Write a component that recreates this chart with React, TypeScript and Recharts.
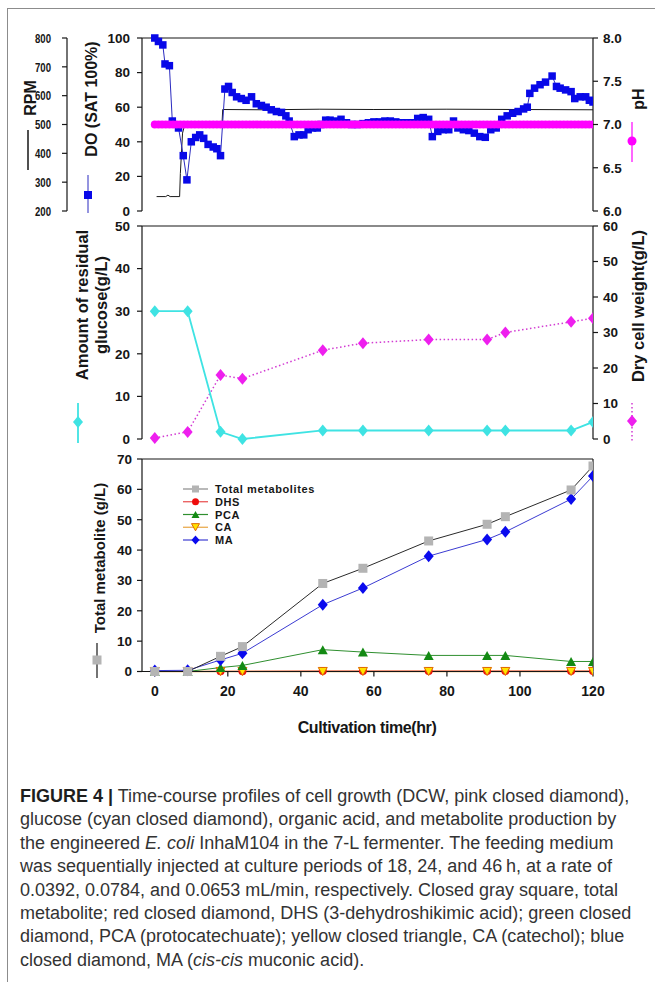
import React from 'react';
import { LineChart, Line, XAxis, YAxis, Legend, ReferenceLine } from 'recharts';

const FONT = '"Liberation Sans", Arial, Helvetica, sans-serif';
const INK = '#161616';

// ---------------- data ----------------
const doHours = [0, 1, 2.2, 2.8, 4, 4.8, 6.5, 7.8, 8.8, 10, 11.2, 12.3, 13.4, 14.6, 16, 17, 18, 19.2, 20.2, 21.2, 22.4, 23.7, 25, 26.5, 27.8, 29.2, 30.5, 31.9, 33.3, 34.7, 35.9, 36.8, 38.2, 39.5, 40.8, 42, 43.2, 44.5, 45.5, 46.8, 48, 49.5, 51, 52.5, 54, 55.5, 57, 58.5, 60, 61.5, 63, 64.5, 66, 67.5, 69, 70.5, 72, 73.5, 75, 76, 77.5, 79, 80.5, 81.8, 83, 84.5, 86, 87.5, 89, 90.5, 92, 93.5, 95, 96.5, 98, 99.5, 101, 102, 102.7, 104, 105.5, 107, 108.8, 110, 111, 112.5, 114, 115, 116.5, 118, 119, 120];
const doValues = [100, 98, 96, 85, 84, 52, 48, 32, 18, 40, 42.5, 44, 42, 38.5, 37, 36, 32, 70.5, 72, 68.5, 66, 65, 64, 66, 62, 61, 60, 58.5, 57.5, 57, 55, 52, 43, 44, 44, 47, 48, 48, 50, 52.5, 52.5, 52, 53, 51, 50, 50, 50.5, 51, 51.5, 51.5, 52, 52, 51.5, 51, 51, 51, 53.5, 54, 53, 43, 46, 47, 47, 52, 48, 47, 46.5, 45, 43, 42.6, 47, 48, 53, 55, 56.5, 57.5, 59, 60, 68, 71, 73, 74.5, 78, 72, 71, 70, 69, 65, 66, 66, 64, 63];

const rpmHours = [0.5, 3, 3.6, 4.2, 6.8, 7.0, 7.6, 8.2, 12, 18.4, 18.6, 30, 45, 60, 80, 100, 120];
const rpmValues = [250, 250, 255, 250, 250, 330, 470, 500, 500, 500, 552, 551, 553, 552, 553, 552, 551];

const phHours = [
  0, 1, 2, 3, 4, 5, 6, 7, 8, 9, 10, 11, 12, 13, 14, 15, 16, 17, 18, 19, 20,
  21, 22, 23, 24, 25, 26, 27, 28, 29, 30, 31, 32, 33, 34, 35, 36, 37, 38, 39, 40,
  41, 42, 43, 44, 45, 46, 47, 48, 49, 50, 51, 52, 53, 54, 55, 56, 57, 58, 59, 60,
  61, 62, 63, 64, 65, 66, 67, 68, 69, 70, 71, 72, 73, 74, 75, 76, 77, 78, 79, 80,
  81, 82, 83, 84, 85, 86, 87, 88, 89, 90, 91, 92, 93, 94, 95, 96, 97, 98, 99, 100,
  101, 102, 103, 104, 105, 106, 107, 108, 109, 110, 111, 112, 113, 114, 115, 116, 117, 118, 119, 120,
];
const phValues = [
  7.0, 7.0, 7.0, 7.0, 7.0, 7.0, 7.0, 7.0, 7.0, 7.0, 7.0, 7.0, 7.0, 7.0, 7.0, 7.0, 7.0, 7.0, 7.0, 7.0, 7.0,
  7.0, 7.0, 7.0, 7.0, 7.0, 7.0, 7.0, 7.0, 7.0, 7.0, 7.0, 7.0, 7.0, 7.0, 7.0, 7.0, 7.0, 7.0, 7.0, 7.0,
  7.0, 7.0, 7.0, 7.0, 7.0, 7.0, 7.0, 7.0, 7.0, 7.0, 7.0, 7.0, 7.0, 7.0, 7.0, 7.0, 7.0, 7.0, 7.0, 7.0,
  7.0, 7.0, 7.0, 7.0, 7.0, 7.0, 7.0, 7.0, 7.0, 7.0, 7.0, 7.0, 7.0, 7.0, 7.0, 7.0, 7.0, 7.0, 7.0, 7.0,
  7.0, 7.0, 7.0, 7.0, 7.0, 7.0, 7.0, 7.0, 7.0, 7.0, 7.0, 7.0, 7.0, 7.0, 7.0, 7.0, 7.0, 7.0, 7.0, 7.0,
  7.0, 7.0, 7.0, 7.0, 7.0, 7.0, 7.0, 7.0, 7.0, 7.0, 7.0, 7.0, 7.0, 7.0, 7.0, 7.0, 7.0, 7.0, 7.0, 7.0,
];

const sampleHours = [0, 9, 18, 24, 46, 57, 75, 91, 96, 114, 120];
const glucoseValues = [30, 30, 1.7, 0, 2, 2, 2, 2, 2, 2, 4];
const dcwValues = [0.3, 2, 18, 17, 25, 27, 28, 28, 30, 33, 34];
const totalValues = [0, 0, 5, 8.2, 29, 34, 43, 48.5, 51, 59.8, 67.7];
const dhsValues = [0, 0, 0.1, 0.1, 0.2, 0.2, 0.2, 0.2, 0.2, 0.2, 0.2];
const pcaValues = [0, 0, 1.3, 2, 7.2, 6.4, 5.3, 5.3, 5.3, 3.3, 3.3];
const caValues = [0, 0, 0, 0, 0, 0, 0, 0, 0, 0, 0];
const maValues = [0.3, 0.4, 3.8, 6, 22, 27.5, 38, 43.5, 46, 56.8, 64.4];

const xTicks = [0, 20, 40, 60, 80, 100, 120];
const doTicks = [0, 20, 40, 60, 80, 100];
const rpmTicks = [200, 300, 400, 500, 600, 700, 800];
const phTicks = [6, 6.5, 7, 7.5, 8];
const glucoseTicks = [0, 10, 20, 30, 40, 50];
const dcwTicks = [0, 10, 20, 30, 40, 50, 60];
const metTicks = [0, 10, 20, 30, 40, 50, 60, 70];
const legendOrder = ['Total metabolites', 'DHS', 'PCA', 'CA', 'MA'];

// ---------------- helpers ----------------
type P = { t: number; v: number };
const pairs = (hs: number[], vs: number[]): P[] => hs.map((t, i) => ({ t, v: vs[i] }));

const doData = pairs(doHours, doValues);
const rpmData = pairs(rpmHours, rpmValues);
const phData = pairs(phHours, phValues);
const glucoseData = pairs(sampleHours, glucoseValues);
const dcwData = pairs(sampleHours, dcwValues);
const totalData = pairs(sampleHours, totalValues);
const dhsData = pairs(sampleHours, dhsValues);
const pcaData = pairs(sampleHours, pcaValues);
const caData = pairs(sampleHours, caValues);
const maData = pairs(sampleHours, maValues);

const C = {
  doLine: '#2b2bc0',
  doFill: '#0808e8',
  ph: '#ff00ff',
  glucose: '#3fe3e3',
  dcwLine: '#d23ad2',
  dcwFill: '#ee1fee',
  totalLine: '#2a2a2a',
  totalFill: '#b4b4b4',
  dhsLine: '#e84a4a',
  dhsFill: '#ee0c0c',
  pcaLine: '#2f8f2f',
  pcaFill: '#138a13',
  caLine: '#e8a442',
  caFill: '#ffe400',
  caStroke: '#e06a00',
  maLine: '#3b3bd2',
  maFill: '#0a0aee',
};

function shapeSquare(x: number, y: number, s: number, fill: string, key?: any) {
  return <rect key={key} x={x - s / 2} y={y - s / 2} width={s} height={s} fill={fill} />;
}
function shapeDiamond(x: number, y: number, w: number, h: number, fill: string, key?: any) {
  return (
    <polygon key={key} points={`${x},${y - h / 2} ${x + w / 2},${y} ${x},${y + h / 2} ${x - w / 2},${y}`} fill={fill} />
  );
}
function shapeTri(x: number, y: number, s: number, fill: string, down: boolean, stroke?: string, key?: any) {
  const h = s * 0.9;
  const pts = down
    ? `${x - s / 2},${y - h / 2} ${x + s / 2},${y - h / 2} ${x},${y + h / 2}`
    : `${x - s / 2},${y + h / 2} ${x + s / 2},${y + h / 2} ${x},${y - h / 2}`;
  return <polygon key={key} points={pts} fill={fill} stroke={stroke || 'none'} strokeWidth={stroke ? 1 : 0} />;
}

const ok = (p: any) => p && p.cx != null && p.cy != null;
const squareDot = (s: number, fill: string) => (p: any) =>
  ok(p) ? shapeSquare(p.cx, p.cy, s, fill, p.index) : <g key={p.index} />;
const diamondDot = (w: number, h: number, fill: string) => (p: any) =>
  ok(p) ? shapeDiamond(p.cx, p.cy, w, h, fill, p.index) : <g key={p.index} />;
const triDot = (s: number, fill: string, down: boolean, stroke?: string) => (p: any) =>
  ok(p) ? shapeTri(p.cx, p.cy, s, fill, down, stroke, p.index) : <g key={p.index} />;

const tickStyle = { fontSize: 13.5, fontWeight: 700, fill: INK, fontFamily: FONT };
const axisLineStyle = { stroke: INK, strokeWidth: 1.2 };
const tickLineStyle = { stroke: INK, strokeWidth: 1.2 };

const RpmTick = (p: any) => (
  <text
    x={p.x}
    y={p.y}
    dy="0.36em"
    textAnchor="end"
    fontSize={13}
    fontWeight={700}
    fontFamily={FONT}
    fill={INK}
    textLength={16}
    lengthAdjust="spacingAndGlyphs"
  >
    {p.payload && p.payload.value}
  </text>
);

const VText = ({ x, y, size = 16, children }: { x: number; y: number; size?: number; children: React.ReactNode }) => (
  <text
    x={x}
    y={y}
    transform={`rotate(-90 ${x} ${y})`}
    textAnchor="middle"
    dominantBaseline="central"
    fontFamily={FONT}
    fontWeight={700}
    fontSize={size}
    fill={INK}
  >
    {children}
  </text>
);

// axis titles with their legend glyphs
const TopLeftTitles = () => (
  <g>
    <VText x={30} y={98}>RPM</VText>
    <line x1={28} y1={130} x2={28} y2={170} stroke={INK} strokeWidth={1.5} />
    <VText x={91} y={99}>DO (SAT 100%)</VText>
    <line x1={88} y1={175} x2={88} y2={213} stroke={C.doLine} strokeWidth={1} />
    {shapeSquare(88, 195, 8, C.doFill)}
  </g>
);
const TopRightTitles = () => (
  <g>
    <VText x={638} y={99}>pH</VText>
    <line x1={632} y1={122} x2={632} y2={162} stroke={C.ph} strokeWidth={1.2} />
    <circle cx={632} cy={141} r={4.5} fill={C.ph} />
  </g>
);
const MidLeftTitles = () => (
  <g>
    <VText x={82} y={90} size={16.5}>Amount of residual</VText>
    <VText x={101} y={90} size={16.5}>glucose(g/L)</VText>
    <line x1={78} y1={188} x2={78} y2={228} stroke={C.glucose} strokeWidth={1.8} />
    {shapeDiamond(78, 207, 10, 12, C.glucose)}
  </g>
);
const MidRightTitles = () => (
  <g>
    <VText x={638} y={91} size={16.5}>Dry cell weight(g/L)</VText>
    <line x1={632} y1={188} x2={632} y2={228} stroke={C.dcwLine} strokeWidth={1.5} strokeDasharray="1.5 2.5" />
    {shapeDiamond(632, 206, 10, 12, C.dcwFill)}
  </g>
);
const BottomLeftTitles = () => (
  <g>
    <VText x={99} y={108} size={15}>Total metabolite (g/L)</VText>
    <line x1={97} y1={193} x2={97} y2={228} stroke={INK} strokeWidth={1.2} />
    {shapeSquare(97, 210, 9, C.totalFill)}
  </g>
);
const XTitle = () => (
  <text x={367} y={283} textAnchor="middle" fontFamily={FONT} fontWeight={700} fontSize={16} letterSpacing={-0.4} fill={INK}>
    Cultivation time(hr)
  </text>
);

const legendMarker = (name: string, x: number, y: number) => {
  switch (name) {
    case 'Total metabolites':
      return shapeSquare(x, y, 7, C.totalFill);
    case 'DHS':
      return <circle cx={x} cy={y} r={3.5} fill={C.dhsFill} />;
    case 'PCA':
      return shapeTri(x, y, 8, C.pcaFill, false);
    case 'CA':
      return shapeTri(x, y, 8, C.caFill, true, C.caStroke);
    default:
      return shapeDiamond(x, y, 8, 9, C.maFill);
  }
};
const legendLine: Record<string, string> = {
  'Total metabolites': '#8a8a8a',
  DHS: C.dhsLine,
  PCA: C.pcaLine,
  CA: C.caLine,
  MA: C.maLine,
};

const MetLegend = (props: any) => {
  const payload: any[] = props.payload || [];
  const items = legendOrder.filter((n) => payload.some((p) => p.value === n));
  return (
    <svg width={150} height={66} style={{ display: 'block' }}>
      {items.map((name, i) => {
        const y = 6 + i * 12.75;
        return (
          <g key={name}>
            <line x1={3} x2={28} y1={y} y2={y} stroke={legendLine[name]} strokeWidth={1.2} />
            {legendMarker(name, 15.5, y)}
            <text x={35} y={y + 4} fontFamily={FONT} fontWeight={700} fontSize={11} letterSpacing={0.6} fill={INK}>
              {name}
            </text>
          </g>
        );
      })}
    </svg>
  );
};

const X_DOMAIN: [number, number] = [-3.5, 120];

export default function App() {
  return (
    <div style={{ position: 'absolute', left: 0, top: 0, width: 655, height: 982, background: '#fff', overflow: 'hidden' }}>
      {/* page frame */}
      <div
        style={{
          position: 'absolute',
          left: 7,
          top: 8,
          width: 660,
          height: 990,
          borderLeft: '1.5px solid #8c8c8c',
          borderTop: '1.5px solid #8c8c8c',
        }}
      />

      {/* Panel 1: RPM, DO, pH */}
      <div style={{ position: 'absolute', left: 0, top: 0 }}>
        <LineChart width={655} height={220} margin={{ top: 38, right: 0, bottom: 9, left: 0 }}>
          <XAxis type="number" dataKey="t" domain={X_DOMAIN} allowDataOverflow tick={false} tickLine={false} height={0} axisLine={axisLineStyle} />
          <YAxis
            yAxisId="do"
            orientation="left"
            width={75}
            domain={[0, 100]}
            ticks={doTicks}
            interval={0}
            tick={tickStyle}
            tickSize={5}
            tickMargin={7}
            axisLine={axisLineStyle}
            tickLine={tickLineStyle}
            label={<TopLeftTitles />}
          />
          <YAxis
            yAxisId="rpm"
            orientation="left"
            width={67}
            domain={[200, 800]}
            ticks={rpmTicks}
            interval={0}
            tick={<RpmTick />}
            tickSize={5}
            tickMargin={11}
            axisLine={axisLineStyle}
            tickLine={tickLineStyle}
          />
          <YAxis
            yAxisId="ph"
            orientation="right"
            width={62}
            domain={[6, 8]}
            ticks={phTicks}
            interval={0}
            tickFormatter={(v: number) => v.toFixed(1)}
            tick={tickStyle}
            tickSize={5}
            tickMargin={5}
            axisLine={axisLineStyle}
            tickLine={tickLineStyle}
            label={<TopRightTitles />}
          />
          <ReferenceLine yAxisId="do" y={100} stroke={INK} strokeWidth={1.2} />
          <Line yAxisId="rpm" data={rpmData} dataKey="v" name="RPM" stroke="#1a1a1a" strokeWidth={1} dot={false} isAnimationActive={false} />
          <Line yAxisId="do" data={doData} dataKey="v" name="DO" stroke={C.doLine} strokeWidth={1} dot={squareDot(7.5, C.doFill)} isAnimationActive={false} />
          <Line yAxisId="ph" data={phData} dataKey="v" name="pH" stroke={C.ph} strokeWidth={1} dot={{ r: 4, fill: C.ph, stroke: 'none' }} isAnimationActive={false} />
        </LineChart>
      </div>

      {/* Panel 2: glucose and DCW */}
      <div style={{ position: 'absolute', left: 0, top: 215 }}>
        <LineChart width={655} height={235} margin={{ top: 11, right: 0, bottom: 11, left: 0 }}>
          <XAxis type="number" dataKey="t" domain={X_DOMAIN} allowDataOverflow tick={false} tickLine={false} height={0} axisLine={axisLineStyle} />
          <YAxis
            yAxisId="glu"
            orientation="left"
            width={142}
            domain={[0, 50]}
            ticks={glucoseTicks}
            interval={0}
            tick={tickStyle}
            tickSize={5}
            tickMargin={7}
            axisLine={axisLineStyle}
            tickLine={tickLineStyle}
            label={<MidLeftTitles />}
          />
          <YAxis
            yAxisId="dcw"
            orientation="right"
            width={62}
            domain={[0, 60]}
            ticks={dcwTicks}
            interval={0}
            tick={tickStyle}
            tickSize={5}
            tickMargin={5}
            axisLine={axisLineStyle}
            tickLine={tickLineStyle}
            label={<MidRightTitles />}
          />
          <ReferenceLine yAxisId="glu" y={50} stroke={INK} strokeWidth={1.2} />
          <Line yAxisId="dcw" data={dcwData} dataKey="v" name="DCW" stroke={C.dcwLine} strokeWidth={1.5} strokeDasharray="1.5 2.5" dot={diamondDot(10, 12, C.dcwFill)} isAnimationActive={false} />
          <Line yAxisId="glu" data={glucoseData} dataKey="v" name="Glucose" stroke={C.glucose} strokeWidth={1.8} dot={diamondDot(10, 12, C.glucose)} isAnimationActive={false} />
        </LineChart>
      </div>

      {/* Panel 3: metabolites */}
      <div style={{ position: 'absolute', left: 0, top: 450 }}>
        <LineChart width={655} height={300} margin={{ top: 9, right: 62, bottom: 28.5, left: 0 }}>
          <XAxis
            type="number"
            dataKey="t"
            domain={X_DOMAIN}
            allowDataOverflow
            ticks={xTicks}
            interval={0}
            tick={{ ...tickStyle, fontSize: 14 }}
            tickSize={5}
            tickMargin={10}
            height={50}
            axisLine={axisLineStyle}
            tickLine={tickLineStyle}
            label={<XTitle />}
          />
          <YAxis
            yAxisId="met"
            orientation="left"
            width={142}
            domain={[0, 70]}
            ticks={metTicks}
            interval={0}
            tick={tickStyle}
            tickSize={5}
            tickMargin={5}
            axisLine={axisLineStyle}
            tickLine={tickLineStyle}
            label={<BottomLeftTitles />}
          />
          <ReferenceLine yAxisId="met" y={70} stroke={INK} strokeWidth={1.2} />
          <ReferenceLine yAxisId="met" x={120} stroke={INK} strokeWidth={1.2} />
          <Legend
            layout="vertical"
            align="center"
            verticalAlign="middle"
            content={<MetLegend />}
            wrapperStyle={{ left: 180, top: 33, width: 150, height: 66 }}
          />
          <Line yAxisId="met" data={dhsData} dataKey="v" name="DHS" stroke={C.dhsLine} strokeWidth={1} dot={{ r: 4, fill: C.dhsFill, stroke: 'none' }} isAnimationActive={false} />
          <Line yAxisId="met" data={caData} dataKey="v" name="CA" stroke={C.caLine} strokeWidth={1.5} dot={triDot(9, C.caFill, true, C.caStroke)} isAnimationActive={false} />
          <Line yAxisId="met" data={pcaData} dataKey="v" name="PCA" stroke={C.pcaLine} strokeWidth={1} dot={triDot(10, C.pcaFill, false)} isAnimationActive={false} />
          <Line yAxisId="met" data={maData} dataKey="v" name="MA" stroke={C.maLine} strokeWidth={1} dot={diamondDot(10, 12, C.maFill)} isAnimationActive={false} />
          <Line yAxisId="met" data={totalData} dataKey="v" name="Total metabolites" stroke={C.totalLine} strokeWidth={1} dot={squareDot(9, C.totalFill)} isAnimationActive={false} />
        </LineChart>
      </div>

      {/* caption */}
      <div
        style={{
          position: 'absolute',
          left: 20,
          top: 785,
          fontFamily: FONT,
          fontSize: 18,
          lineHeight: '23.4px',
          color: '#333',
          whiteSpace: 'nowrap',
        }}
      >
        <div>
          <b style={{ color: '#1e1e1e' }}>FIGURE 4 |</b> Time-course profiles of cell growth (DCW, pink closed diamond),
        </div>
        <div>glucose (cyan closed diamond), organic acid, and metabolite production by</div>
        <div>
          the engineered <i>E. coli</i> InhaM104 in the 7-L fermenter. The feeding medium
        </div>
        <div>was sequentially injected at culture periods of 18, 24, and 46{'\u2009'}h, at a rate of</div>
        <div>0.0392, 0.0784, and 0.0653 mL/min, respectively. Closed gray square, total</div>
        <div>metabolite; red closed diamond, DHS (3-dehydroshikimic acid); green closed</div>
        <div>diamond, PCA (protocatechuate); yellow closed triangle, CA (catechol); blue</div>
        <div>
          closed diamond, MA (<i>cis-cis</i> muconic acid).
        </div>
      </div>
    </div>
  );
}
